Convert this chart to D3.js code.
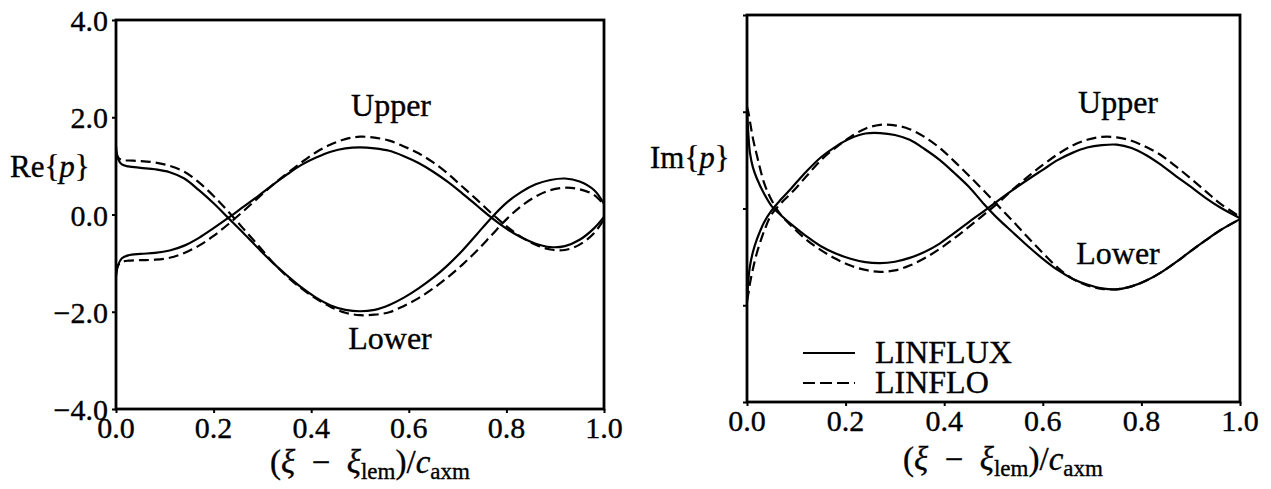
<!DOCTYPE html>
<html>
<head>
<meta charset="utf-8">
<script src="https://cdn.jsdelivr.net/npm/d3@7"></script>
<style>
  html, body { margin: 0; padding: 0; background: #fff; }
  svg { display: block; }
  text { font-family: "Liberation Serif", "Times New Roman", serif; fill: #000; stroke: #000; stroke-width: 0.35px; }
</style>
</head>
<body>
<svg id="chart" width="1271" height="489"></svg>
<script>
// ---------- data ----------
const xTicks = [0, 0.2, 0.4, 0.6, 0.8, 1.0];
const xTickLabels = ["0.0", "0.2", "0.4", "0.6", "0.8", "1.0"];
const yTicks = [-4, -2, 0, 2, 4];
const yTickLabels = ["\u22124.0", "\u22122.0", "0.0", "2.0", "4.0"];

// Left panel: Re{p}
const xRe = [0, 0.004, 0.012, 0.025, 0.05, 0.08,
  0.11, 0.14, 0.17, 0.20, 0.23, 0.26, 0.29, 0.32, 0.35, 0.38, 0.41, 0.44, 0.47, 0.50,
  0.53, 0.56, 0.59, 0.62, 0.65, 0.68, 0.71, 0.74, 0.77, 0.80, 0.83, 0.86, 0.89, 0.92, 0.95, 0.98,
  1.0];
const reUpperLinflux = [-1.28, -1.05, -0.90, -0.84, -0.81, -0.79,
  -0.74, -0.64, -0.48, -0.28, -0.07, 0.15, 0.37, 0.60, 0.82, 1.02, 1.17, 1.29, 1.36, 1.38,
  1.36, 1.31, 1.20, 1.06, 0.88, 0.67, 0.43, 0.18, -0.07, -0.29, -0.47, -0.60, -0.67, -0.65, -0.52, -0.28,
  -0.05];
const reUpperLinflo = [-1.20, -1.05, -0.98, -0.95, -0.94, -0.93,
  -0.89, -0.79, -0.64, -0.44, -0.20, 0.06, 0.33, 0.60, 0.84, 1.07, 1.28, 1.44, 1.55, 1.60,
  1.58, 1.52, 1.40, 1.26, 1.07, 0.84, 0.57, 0.30, 0.02, -0.24, -0.46, -0.62, -0.72, -0.73, -0.62, -0.38,
  -0.10];
const reLowerLinflux = [1.40, 1.15, 1.03, 0.99, 0.96, 0.93,
  0.87, 0.74, 0.50, 0.23, -0.07, -0.37, -0.68, -0.98, -1.25, -1.50, -1.71, -1.87, -1.96, -1.99,
  -1.96, -1.86, -1.71, -1.52, -1.30, -1.04, -0.74, -0.40, -0.06, 0.24, 0.46, 0.62, 0.71, 0.74, 0.68, 0.50,
  0.22];
const reLowerLinflo = [1.30, 1.18, 1.12, 1.11, 1.10, 1.07,
  1.00, 0.88, 0.66, 0.38, 0.06, -0.28, -0.62, -0.97, -1.27, -1.52, -1.73, -1.90, -2.02, -2.07,
  -2.06, -2.01, -1.88, -1.72, -1.52, -1.29, -1.03, -0.74, -0.42, -0.10, 0.17, 0.37, 0.50, 0.55, 0.52, 0.40,
  0.20];

// Right panel: Im{p}
const xIm = [0, 0.003, 0.006, 0.012, 0.02, 0.035, 0.05, 0.07, 0.09, 0.12,
  0.15, 0.18, 0.21, 0.24, 0.27, 0.30, 0.33, 0.36, 0.39, 0.42, 0.45, 0.48, 0.51, 0.54,
  0.57, 0.60, 0.63, 0.66, 0.69, 0.72, 0.75, 0.78, 0.81, 0.84, 0.87, 0.90, 0.93, 0.96,
  1.0];
const imUpperLinflux = [2.05, 1.50, 1.15, 0.85, 0.62, 0.30, 0.05, -0.15, -0.33, -0.57,
  -0.78, -0.93, -1.04, -1.11, -1.13, -1.10, -1.02, -0.90, -0.73, -0.51, -0.28, -0.06, 0.17, 0.39,
  0.60, 0.80, 1.00, 1.15, 1.26, 1.31, 1.32, 1.25, 1.10, 0.90, 0.67, 0.45, 0.22, 0.02,
  -0.20];
const imUpperLinflo = [2.10, 1.98, 1.80, 1.45, 1.10, 0.52, 0.17, -0.15, -0.36, -0.64,
  -0.86, -1.04, -1.18, -1.27, -1.31, -1.28, -1.18, -1.03, -0.84, -0.62, -0.38, -0.13, 0.12, 0.40,
  0.66, 0.90, 1.12, 1.30, 1.42, 1.48, 1.47, 1.40, 1.27, 1.10, 0.87, 0.62, 0.36, 0.10,
  -0.17];
const imLowerLinflux = [-1.95, -1.45, -1.19, -0.90, -0.64, -0.28, -0.04, 0.20, 0.42, 0.76,
  1.06, 1.28, 1.45, 1.55, 1.56, 1.52, 1.42, 1.23, 1.01, 0.74, 0.45, 0.10, -0.22, -0.50,
  -0.78, -1.04, -1.27, -1.45, -1.57, -1.65, -1.67, -1.61, -1.49, -1.32, -1.11, -0.88, -0.66, -0.45,
  -0.22];
const imLowerLinflo = [-1.90, -1.75, -1.55, -1.25, -0.92, -0.46, -0.12, 0.12, 0.32, 0.66,
  1.00, 1.26, 1.48, 1.65, 1.73, 1.72, 1.64, 1.48, 1.26, 0.98, 0.68, 0.37, 0.05, -0.27,
  -0.60, -0.92, -1.22, -1.45, -1.59, -1.66, -1.67, -1.61, -1.49, -1.32, -1.11, -0.88, -0.66, -0.45,
  -0.22];

const legendLabels = ["LINFLUX", "LINFLO"];

// ---------- drawing ----------
const svg = d3.select("#chart");
const FS = 30;   // tick labels
const FL = 32;   // annotations, legend

function panel(cfg) {
  const x = d3.scaleLinear().domain([0, 1]).range(cfg.xr);
  const y = d3.scaleLinear().domain([-4, 4]).range(cfg.yr);
  const g = svg.append("g");

  const xa = g.append("g").attr("transform", `translate(0,${cfg.yr[0]})`)
    .call(d3.axisBottom(x).tickValues(xTicks).tickSize(4).tickFormat(() => ""));
  const ya = g.append("g").attr("transform", `translate(${cfg.xr[0]},0)`)
    .call(d3.axisLeft(y).tickValues(yTicks).tickSize(4).tickFormat(() => ""));
  [xa, ya].forEach(a => {
    a.select(".domain").remove();
    a.selectAll("line").attr("stroke", "#000").attr("stroke-width", 2);
  });

  g.append("rect")
    .attr("x", cfg.xr[0]).attr("y", cfg.yr[1])
    .attr("width", cfg.xr[1] - cfg.xr[0]).attr("height", cfg.yr[0] - cfg.yr[1])
    .attr("fill", "none").attr("stroke", "#000").attr("stroke-width", 2.8);

  g.selectAll(".xl").data(xTicks).enter().append("text")
    .attr("x", d => x(d)).attr("y", cfg.yr[0] + 29)
    .attr("text-anchor", "middle").attr("font-size", FS)
    .text((d, i) => xTickLabels[i]);

  if (cfg.yLabels) {
    g.selectAll(".yl").data(yTicks).enter().append("text")
      .attr("x", cfg.xr[0] - 8).attr("y", d => y(d) + 11)
      .attr("text-anchor", "end").attr("font-size", FS)
      .text((d, i) => yTickLabels[i]);
  }

  const line = d3.line().curve(d3.curveCatmullRom.alpha(0.5))
    .x(d => x(d[0])).y(d => y(d[1]));
  cfg.series.forEach(s => {
    g.append("path")
      .datum(cfg.xs.map((v, i) => [v, s.v[i]]))
      .attr("d", line)
      .attr("fill", "none").attr("stroke", "#000")
      .attr("stroke-width", 2.2)
      .attr("stroke-dasharray", s.dash ? "10,5" : null);
  });

  const yl = g.append("text").attr("x", cfg.ylab[0]).attr("y", cfg.ylab[1]).attr("font-size", 31);
  yl.append("tspan").text(cfg.ylabText + "{");
  yl.append("tspan").attr("font-style", "italic").text("p");
  yl.append("tspan").text("}");

  const t = g.append("text").attr("x", cfg.title[0]).attr("y", cfg.title[1])
    .attr("text-anchor", "middle").attr("font-size", 33);
  t.append("tspan").text("(");
  t.append("tspan").attr("font-style", "italic").text("\u03BE");
  t.append("tspan").text("\u2002\u2212\u2002");
  t.append("tspan").attr("font-style", "italic").text("\u03BE");
  t.append("tspan").attr("font-size", 23).attr("dy", 6).text("lem");
  t.append("tspan").attr("dy", -6).text(")/");
  t.append("tspan").attr("font-style", "italic").text("c");
  t.append("tspan").attr("font-size", 23).attr("dy", 6).text("axm");

  g.append("text").attr("x", cfg.upper[0]).attr("y", cfg.upper[1])
    .attr("text-anchor", "middle").attr("font-size", FL).text("Upper");
  g.append("text").attr("x", cfg.lower[0]).attr("y", cfg.lower[1])
    .attr("text-anchor", "middle").attr("font-size", FL).text("Lower");

  return { x, y, g };
}

panel({
  xr: [116, 604], yr: [409, 20], yLabels: true,
  xs: xRe,
  series: [
    { v: reUpperLinflux, dash: false }, { v: reUpperLinflo, dash: true },
    { v: reLowerLinflux, dash: false }, { v: reLowerLinflo, dash: true }
  ],
  ylabText: "Re", ylab: [10, 177],
  title: [370, 473],
  upper: [391, 116], lower: [390, 349]
});

panel({
  xr: [747, 1240], yr: [402, 15], yLabels: false,
  xs: xIm,
  series: [
    { v: imUpperLinflux, dash: false }, { v: imUpperLinflo, dash: true },
    { v: imLowerLinflux, dash: false }, { v: imLowerLinflo, dash: true }
  ],
  ylabText: "Im", ylab: [650, 168],
  title: [1003, 470],
  upper: [1118, 113], lower: [1118, 264]
});

const lg = svg.append("g");
legendLabels.forEach((lab, i) => {
  const yy = 353 + i * 30;
  lg.append("line").attr("x1", 803).attr("x2", 855).attr("y1", yy).attr("y2", yy)
    .attr("stroke", "#000").attr("stroke-width", 2.2)
    .attr("stroke-dasharray", i === 1 ? "12,5" : null);
  lg.append("text").attr("x", 875).attr("y", yy + 10).attr("font-size", FL).text(lab);
});
</script>
</body>
</html>
